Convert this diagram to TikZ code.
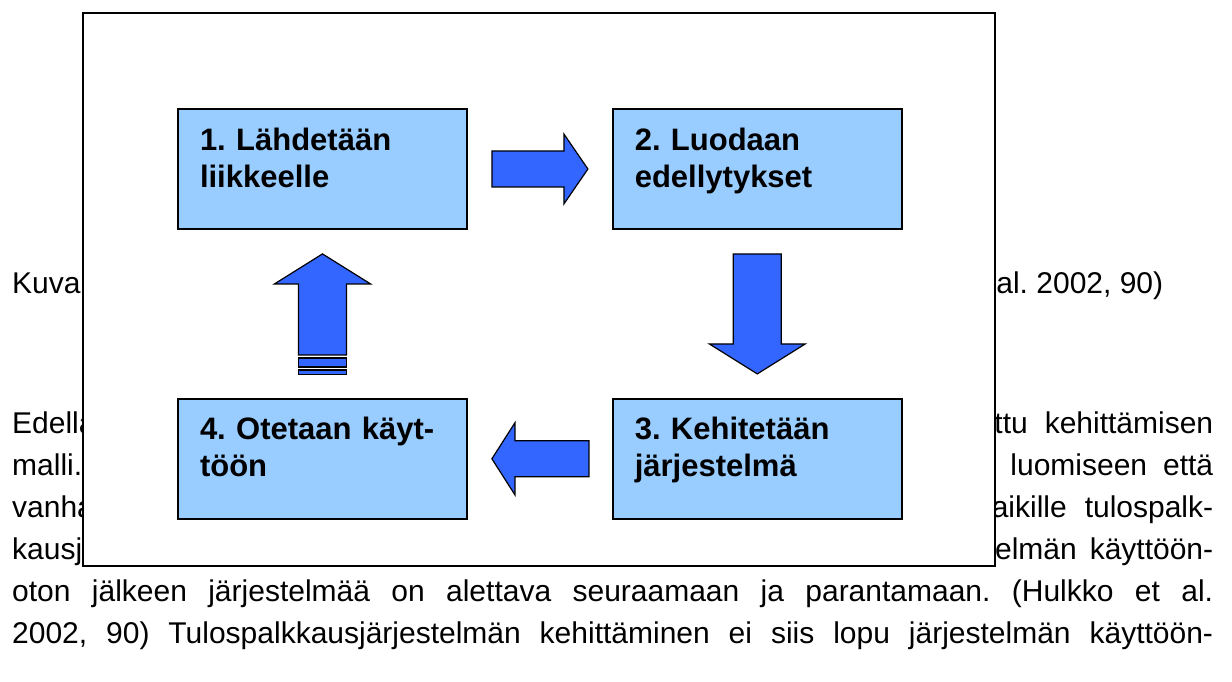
\documentclass[tikz,border=0pt]{standalone}
\usepackage{fontspec}
\setmainfont{Liberation Sans}
\frenchspacing
\usetikzlibrary{positioning,calc}
\definecolor{boxblue}{RGB}{153,204,255}
\definecolor{arrowblue}{RGB}{51,102,255}
\tikzset{
  phase box/.style={
    rectangle, draw=black, line width=1.8pt, fill=boxblue,
    minimum width=289pt, minimum height=120pt, inner sep=0pt,
    text width=245pt, align=left, text height=41pt, text depth=79pt,
    font=\bfseries\fontsize{31}{37}\selectfont
  },
  block arrow/.style={fill=arrowblue, draw=black, line width=1.2pt, line join=miter},
  body line/.style={anchor=base west, inner sep=0pt, font=\fontsize{30}{36}\selectfont},
  figure frame/.style={
    rectangle, draw=black, line width=2.6pt, fill=white,
    minimum width=912pt, minimum height=553pt, inner sep=0pt
  }
}

\begin{document}
\begin{tikzpicture}[x=1pt, y=-1pt]
    \fill[white] (0,0) rectangle (1232,682);
    \useasboundingbox (0,0) rectangle (1232,682);
    % page text behind the figure
    \node[body line] (caption) at (12,293) {\makebox[1151pt][l]{Kuva\hfill(Hulkko et al. 2002, 90)}};
    \node[body line] (line1) at (12,433) {\makebox[1201pt][l]{Edellä\hfill kuvattu\hspace{17pt}kehittämisen}};
    \node[body line] (line2) at (12,475) {\makebox[1201pt][l]{malli.\hfill luomiseen\hspace{16pt}että}};
    \node[body line] (line3) at (12,517) {\makebox[1201pt][l]{vanhan\hfill aikille\hspace{18pt}tulospalk-}};
    \node[body line] (line4) at (12,559) {\makebox[1201pt][l]{kausjärjestelmä\hfill elmän\hspace{13pt}käyttöön-}};
    \node[body line] (line5) at (12,601) {\makebox[1201pt][s]{oton jälkeen järjestelmää on alettava seuraamaan ja parantamaan. (Hulkko et al.}};
    \node[body line] (line6) at (12,643) {\makebox[1201pt][s]{2002, 90) Tulospalkkausjärjestelmän kehittäminen ei siis lopu järjestelmän käyttöön-}};
    % figure
    \node[figure frame] (frame) at (539,289.5) {};
    \node[phase box] (start) at (322.5,169) {1. Lähdetään\\liikkeelle};
    \node[phase box, right=144pt of start] (prepare) {2. Luodaan\\edellytykset};
    \node[phase box, below=168pt of prepare] (develop) {3. Kehitetään\\järjestelmä};
    \node[phase box, left=144pt of develop] (deploy) {4. Otetaan käyt-\\töön};
    % block arrows between the phases
    \filldraw[block arrow] ($(start.east)+(24,-18)$) -- ++(72,0) -- ++(0,-17) -- ++(24,35)
      -- ++(-24,35) -- ++(0,-17) -- ++(-72,0) -- cycle;
    \filldraw[block arrow] ($(prepare.south)+(-24,24)$) -- ++(48,0) -- ++(0,90) -- ++(24,0)
      -- ++(-48,30) -- ++(-48,-30) -- ++(24,0) -- cycle;
    \filldraw[block arrow] ($(develop.west)+(-23,-18)$) -- ++(-74,0) -- ++(0,-18) -- ++(-23,36)
      -- ++(23,36) -- ++(0,-18) -- ++(74,0) -- cycle;
    \filldraw[block arrow] ($(start.south)+(0,24)$) -- ++(48,30) -- ++(-24,0) -- ++(0,71)
      -- ++(-48,0) -- ++(0,-71) -- ++(-24,0) -- cycle;
    \filldraw[block arrow] ($(deploy.north)+(-24,-40)$) rectangle ++(48,9);
    \filldraw[block arrow] ($(deploy.north)+(-24,-28)$) rectangle ++(48,4.5);
\end{tikzpicture}
\end{document}
